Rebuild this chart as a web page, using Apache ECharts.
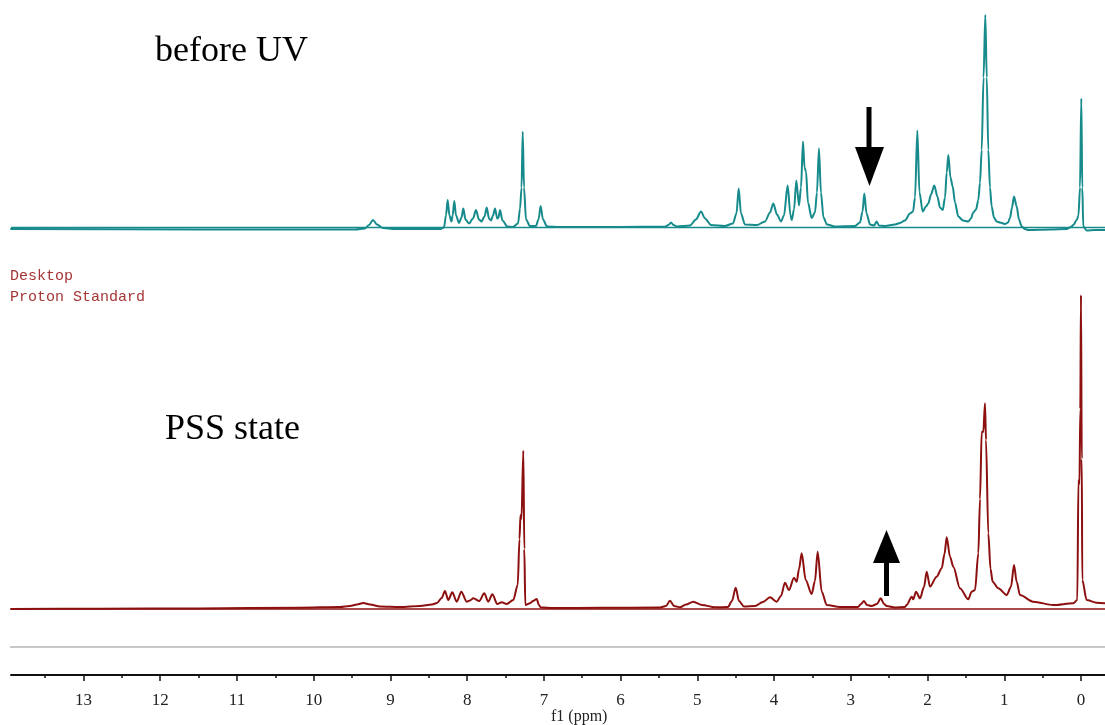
<!DOCTYPE html>
<html>
<head>
<meta charset="utf-8">
<script src="https://cdn.jsdelivr.net/npm/echarts@6/dist/echarts.min.js"></script>
<style>html,body{margin:0;padding:0;background:#fff}#c{width:1105px;height:725px}</style>
</head>
<body>
<div id="c"></div>
<script>
// ppm range shown
const ppmMax = 13.945;
const ppmMin = -0.313;
const majorTicks = [0,1,2,3,4,5,6,7,8,9,10,11,12,13];
const minorTicks = [0.5,1.5,2.5,3.5,4.5,5.5,6.5,7.5,8.5,9.5,10.5,11.5,12.5,13.5];

// "before UV" spectrum: chemical shift (ppm) and intensity (a.u.)
const beforePpm = [13.945,11.482,9.462,9.331,9.279,9.227,9.175,9.097,8.941,8.354,8.302,8.276,8.254,8.231,8.205,8.189,8.168,8.145,8.106,8.074,8.050,8.022,7.976,7.924,7.885,7.846,7.813,7.774,7.745,7.715,7.689,7.663,7.637,7.607,7.591,7.572,7.539,7.477,7.403,7.337,7.311,7.291,7.276,7.259,7.233,7.181,7.103,7.070,7.042,7.012,6.959,6.790,6.008,5.422,5.376,5.343,5.311,5.265,5.096,5.018,4.952,4.900,4.822,4.640,4.536,4.490,4.461,4.431,4.379,4.223,4.118,4.053,4.010,3.962,3.910,3.871,3.823,3.786,3.770,3.740,3.710,3.675,3.649,3.623,3.603,3.584,3.558,3.510,3.467,3.441,3.415,3.389,3.356,3.310,3.206,2.945,2.880,2.847,2.824,2.795,2.749,2.697,2.663,2.633,2.554,2.424,2.359,2.294,2.229,2.189,2.163,2.133,2.105,2.063,2.020,1.990,1.955,1.912,1.871,1.838,1.802,1.772,1.750,1.729,1.701,1.672,1.642,1.599,1.538,1.469,1.434,1.404,1.368,1.338,1.316,1.294,1.270,1.247,1.228,1.208,1.186,1.164,1.134,1.099,1.056,0.990,0.951,0.925,0.899,0.873,0.838,0.808,0.773,0.730,0.687,0.404,0.186,0.130,0.100,0.056,0.033,0.013,-0.004,-0.017,-0.030,-0.074,-0.182,-0.313];
const beforeInt = [-1.5,-2,-2,-1,2.5,7.5,3,-0.5,-1.5,-1.5,0,12,27.5,12,6,12,26.5,12,4.5,10,19,8,4,9,17.5,8,6,11,20,9,7,12,19,9,10,17.5,7,1,0.5,4,19,40,95.8,40,8,1.5,1.5,8,21.5,8,1,0.5,0.5,0.8,2.5,5,2.5,1,2,8,16,9,2.5,1.5,4,14,39,14,3,2.5,6,15,24,13,6,12,42,12,7.5,18,47,22,40,86,60,56,25,9.5,15,35,79,35,10,3,1,1.5,5,16,34,14,3,2,6,2,1.5,3,4.5,7,14,16,30,97,35,16,21,24,33,42,31,20,17.5,30,55,72.5,50,41,25,11,7,6,9,15,18,27.5,45,77.5,150,212.5,150,77.5,40,21,10,6,5,3.5,5,9.5,20,31,21,8,1,-1.5,-2.5,-2,-1.5,0.5,2.5,7.5,12,40,129,40,1,-3,-2.5,-2.5];

// "PSS state" spectrum
const pssPpm = [13.945,12.785,11.482,10.178,9.657,9.527,9.436,9.354,9.266,9.136,8.875,8.615,8.458,8.393,8.332,8.289,8.246,8.194,8.136,8.076,8.006,7.963,7.920,7.842,7.777,7.725,7.672,7.607,7.550,7.485,7.399,7.341,7.318,7.305,7.292,7.268,7.255,7.242,7.181,7.142,7.094,7.064,7.042,6.881,6.269,5.487,5.409,5.356,5.304,5.226,5.148,5.053,4.939,4.770,4.601,4.549,4.500,4.457,4.392,4.249,4.145,4.053,3.966,3.910,3.858,3.806,3.740,3.705,3.675,3.640,3.588,3.510,3.467,3.432,3.379,3.314,3.141,2.906,2.867,2.828,2.789,2.728,2.659,2.610,2.567,2.532,2.424,2.294,2.272,2.206,2.186,2.150,2.098,2.046,2.011,1.968,1.881,1.815,1.779,1.750,1.707,1.664,1.577,1.469,1.425,1.381,1.338,1.316,1.294,1.273,1.251,1.238,1.208,1.179,1.151,1.078,0.968,0.912,0.873,0.838,0.795,0.622,0.361,0.100,0.048,0.033,0.020,0.009,0.000,-0.010,-0.017,-0.074,-0.205,-0.313];
const pssInt = [0,0.3,0.6,1.3,2,3,4.5,6,4.5,2.5,2,3,4.5,6,11,18,9,16.7,7.3,17.3,7.3,8.5,10.7,8,15.7,7.3,14.7,5,6.7,5,9,24,70,94,90,158.3,60,4,5.7,8,10,4,1.7,1,1.2,1.5,3,8.3,3,1.7,4.5,7.3,4,1.7,2,8,21.3,8,2.5,3,7,11.7,7.3,13,26.3,19,31.3,27.3,40,55.7,29,15,28,57.3,17.3,4,2,2,5,8,4,3,5,10.7,5,3,1.5,2,4,12.3,9.7,17.3,10.7,22,37.3,22.3,32.3,40.7,55,71.7,52.3,42.3,20.7,9.7,17.3,19,55.7,110,177.3,177,205.7,169,75.7,40,27.3,20.7,14,22.3,44,27.3,14,7.3,4,5.7,9,129,125,200,314,150,29,9,6.3,5.7];

const tealColor = '#178b8b';
const redColor = '#8c1010';

const pair = (xs, ys) => xs.map((x, i) => [x, ys[i]]);

const chart = echarts.init(document.getElementById('c'), null, {renderer: 'canvas'});
const baseX = {type: 'value', min: ppmMin, max: ppmMax, inverse: true};
chart.setOption({
  animation: false,
  backgroundColor: '#fff',
  grid: [
    {left: 11, right: 0, top: 12, height: 225.5},
    {left: 11, right: 0, top: 290, height: 385}
  ],
  xAxis: [
    Object.assign({}, baseX, {gridIndex: 0, show: false}),
    Object.assign({}, baseX, {
      gridIndex: 1, position: 'bottom',
      axisLine: {show: true, onZero: false, lineStyle: {color: '#111', width: 2}},
      axisTick: {show: true, inside: false, length: 6, customValues: majorTicks, lineStyle: {color: '#111', width: 1.5}},
      axisLabel: {show: true, customValues: majorTicks, margin: 17, fontFamily: 'Liberation Serif', fontSize: 17, color: '#222'},
      splitLine: {show: false}
    }),
    Object.assign({}, baseX, {
      gridIndex: 1, position: 'bottom',
      axisLine: {show: false, onZero: false},
      axisTick: {show: true, inside: false, length: 3, customValues: minorTicks, lineStyle: {color: '#111', width: 1.5}},
      axisLabel: {show: false},
      splitLine: {show: false}
    })
  ],
  yAxis: [
    {type: 'value', gridIndex: 0, min: -10, max: 215.5, show: false},
    {type: 'value', gridIndex: 1, min: -66, max: 319, show: false}
  ],
  series: [
    {type: 'line', xAxisIndex: 0, yAxisIndex: 0, data: [[ppmMax, 0], [ppmMin, 0]], showSymbol: false, silent: true,
     lineStyle: {color: tealColor, width: 1.6}},
    {type: 'line', xAxisIndex: 0, yAxisIndex: 0, data: pair(beforePpm, beforeInt), showSymbol: false, silent: true,
     smooth: 0.3, smoothMonotone: 'x', lineStyle: {color: tealColor, width: 2, join: 'round', cap: 'round'}},
    {type: 'line', xAxisIndex: 1, yAxisIndex: 1, data: [[ppmMax, 0], [ppmMin, 0]], showSymbol: false, silent: true,
     lineStyle: {color: redColor, width: 1.6}},
    {type: 'line', xAxisIndex: 1, yAxisIndex: 1, data: pair(pssPpm, pssInt), showSymbol: false, silent: true,
     smooth: 0.3, smoothMonotone: 'x', lineStyle: {color: redColor, width: 2, join: 'round', cap: 'round'}}
  ],
  graphic: [
    {type: 'line', shape: {x1: 10, y1: 647, x2: 1105, y2: 647}, style: {stroke: '#c8c8c8', lineWidth: 2}},
    {type: 'text', x: 155, y: 52, style: {text: 'before UV', font: '36px "Liberation Serif"', fill: '#000', textVerticalAlign: 'middle'}},
    {type: 'text', x: 165, y: 430, style: {text: 'PSS state', font: '36px "Liberation Serif"', fill: '#000', textVerticalAlign: 'middle'}},
    {type: 'text', x: 10, y: 276, style: {text: 'Desktop', font: '15px "Liberation Mono"', fill: '#a53535', textVerticalAlign: 'middle'}},
    {type: 'text', x: 10, y: 297, style: {text: 'Proton Standard', font: '15px "Liberation Mono"', fill: '#a53535', textVerticalAlign: 'middle'}},
    {type: 'text', x: 551, y: 717, style: {text: 'f1 (ppm)', font: '16px "Liberation Serif"', fill: '#222', textVerticalAlign: 'middle'}},
    {type: 'rect', shape: {x: 866.5, y: 107, width: 5, height: 44}, style: {fill: '#000'}},
    {type: 'polygon', shape: {points: [[855, 147], [884, 147], [869.5, 186]]}, style: {fill: '#000'}},
    {type: 'rect', shape: {x: 884, y: 558, width: 5, height: 38}, style: {fill: '#000'}},
    {type: 'polygon', shape: {points: [[873, 563], [900, 563], [886.5, 530]]}, style: {fill: '#000'}}
  ]
});
</script>
</body>
</html>
